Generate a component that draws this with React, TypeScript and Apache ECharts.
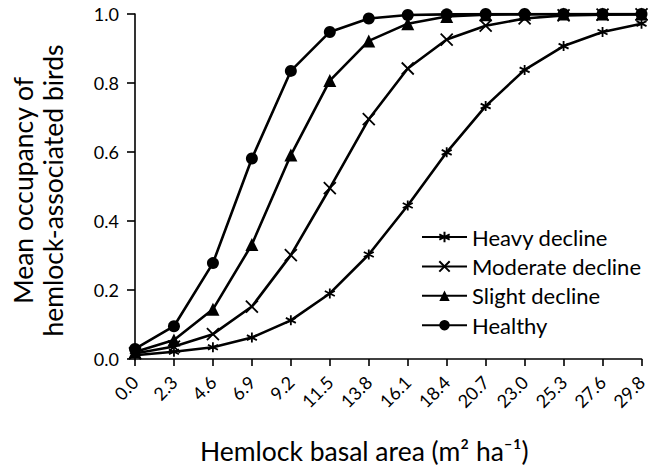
import React, { useEffect, useRef } from "react";
import * as echarts from "echarts";

const categories = ["0.0", "2.3", "4.6", "6.9", "9.2", "11.5", "13.8", "16.1", "18.4", "20.7", "23.0", "25.3", "27.6", "29.8"];
const heavyDecline = [0.011, 0.021, 0.034, 0.062, 0.112, 0.19, 0.303, 0.445, 0.599, 0.733, 0.838, 0.907, 0.948, 0.972];
const moderateDecline = [0.016, 0.036, 0.072, 0.152, 0.301, 0.495, 0.695, 0.842, 0.926, 0.966, 0.987, 0.996, 0.998, 0.999];
const slightDecline = [0.02, 0.055, 0.144, 0.332, 0.591, 0.807, 0.922, 0.972, 0.993, 0.998, 0.999, 1.0, 1.0, 1.0];
const healthy = [0.029, 0.095, 0.278, 0.581, 0.835, 0.948, 0.987, 0.997, 0.999, 1.0, 1.0, 1.0, 1.0, 1.0];
const yTicks = [0, 0.2, 0.4, 0.6, 0.8, 1.0];

const FONT = "Lato, 'Open Sans', sans-serif";
const starSymbol = "path://M5,0L5,10M0.67,2.5L9.33,7.5M9.33,2.5L0.67,7.5";
const crossSymbol = "path://M0,0L10,10M10,0L0,10";

export default function App() {
  const ref = useRef<HTMLDivElement>(null);
  useEffect(() => {
    if (!ref.current) return;
    const chart = echarts.init(ref.current, undefined, { renderer: "svg" });
    const lineBase = (name: string, data: number[], symbol: string, size: number, strokeSymbol: boolean) => ({
      name,
      type: "line",
      data,
      symbol,
      symbolSize: size,
      lineStyle: { color: "#000", width: 2.6 },
      itemStyle: strokeSymbol
        ? { color: "rgba(0,0,0,0)", borderColor: "#000", borderWidth: 1.8 }
        : { color: "#000", borderColor: "#000", borderWidth: 0 },
      emphasis: { disabled: true },
      z: 2,
    });
    chart.setOption({
      animation: false,
      grid: { left: 134, right: 7, top: 14, bottom: 107 },
      legend: {
        orient: "vertical",
        left: 421,
        top: 226,
        padding: 0,
        itemWidth: 45,
        itemHeight: 13,
        itemGap: 7.4,
        textStyle: { fontFamily: FONT, fontSize: 22, color: "#000", lineHeight: 22 },
        data: ["Heavy decline", "Moderate decline", "Slight decline", "Healthy"],
      },
      xAxis: {
        type: "category",
        data: categories,
        boundaryGap: false,
        axisLine: { lineStyle: { color: "#000", width: 1.6 } },
        axisTick: { show: true, length: 7, lineStyle: { color: "#000", width: 1.6 } },
        axisLabel: { rotate: 45, fontFamily: FONT, fontSize: 18, color: "#000", margin: 20, interval: 0 },
        name: "Hemlock basal area (m² ha⁻¹)",
        nameLocation: "middle",
        nameGap: 78,
        nameTextStyle: { fontFamily: FONT, fontSize: 26.5, color: "#000", padding: [0, 48, 0, 0] },
      },
      yAxis: {
        type: "value",
        min: yTicks[0],
        max: yTicks[yTicks.length - 1],
        interval: 0.2,
        splitLine: { show: false },
        axisLine: { show: true, lineStyle: { color: "#000", width: 1.6 } },
        axisTick: { show: true, length: 8, lineStyle: { color: "#000", width: 1.6 } },
        axisLabel: {
          fontFamily: FONT,
          fontSize: 18,
          color: "#000",
          margin: 16,
          formatter: (v: number) => v.toFixed(1),
        },
        name: "Mean occupancy of\nhemlock-associated birds",
        nameLocation: "middle",
        nameGap: 67,
        nameRotate: 90,
        nameTextStyle: { fontFamily: FONT, fontSize: 26.5, color: "#000", lineHeight: 30, padding: [0, 8, 0, 0] },
      },
      series: [
        lineBase("Heavy decline", heavyDecline, starSymbol, 10, true),
        lineBase("Moderate decline", moderateDecline, crossSymbol, 12, true),
        lineBase("Slight decline", slightDecline, "triangle", 13, false),
        lineBase("Healthy", healthy, "circle", 12, false),
      ],
    });
    return () => chart.dispose();
  }, []);
  return <div ref={ref} style={{ width: 650, height: 469, position: "absolute", left: 0, top: 0 }} />;
}
